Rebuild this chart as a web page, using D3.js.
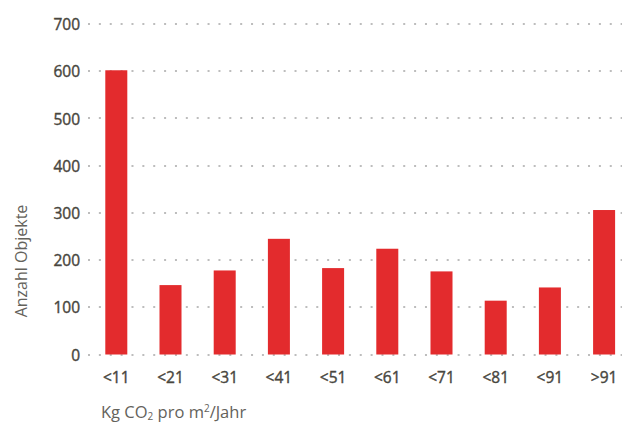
<!DOCTYPE html>
<html>
<head>
<meta charset="utf-8">
<script src="https://cdn.jsdelivr.net/npm/d3@7"></script>
<style>
  html, body { margin: 0; padding: 0; background: #ffffff; }
  svg { display: block; }
</style>
</head>
<body>
<div id="chart"></div>
<script>
const categories = ["<11", "<21", "<31", "<41", "<51", "<61", "<71", "<81", "<91", ">91"];
const values = [602, 147, 178, 245, 183, 224, 176, 114, 142, 306];
const yTicks = [0, 100, 200, 300, 400, 500, 600, 700];
const yTitle = "Anzahl Objekte";

const W = 627, H = 423;
const svg = d3.select("#chart").append("svg").attr("width", W).attr("height", H);

const x = d3.scaleBand().domain(categories).range([89.2, 631.2]).paddingInner(0.594).paddingOuter(0.297);
const y = d3.scaleLinear().domain([0, 700]).range([354.5, 24]);

const textColor = "#48463e";
const titleColor = "#64625b";
const font = "'Open Sans', sans-serif";

// gridlines
svg.append("g").selectAll("line").data(yTicks).join("line")
  .attr("x1", 88).attr("x2", 622)
  .attr("y1", d => Math.round(y(d))).attr("y2", d => Math.round(y(d)))
  .attr("stroke", "#bdbdbd").attr("stroke-width", 2)
  .attr("stroke-dasharray", "2 8.87");

// y axis labels
const yAxis = d3.axisLeft(y).tickValues(yTicks).tickSize(0).tickPadding(0);
const gy = svg.append("g").attr("transform", "translate(80,0)").call(yAxis);
gy.select(".domain").remove();
gy.selectAll("text").attr("font-family", font).attr("font-size", 15.5).attr("font-weight", 400)
  .attr("fill", textColor).attr("stroke", textColor).attr("stroke-width", 0.4)
  .attr("dy", "0.36em");

// bars
svg.append("g").selectAll("rect").data(values).join("rect")
  .attr("x", (d, i) => x(categories[i]))
  .attr("width", x.bandwidth())
  .attr("y", d => y(d))
  .attr("height", d => y(0) - y(d))
  .attr("fill", "#e32b2d");

// x axis labels
const xAxis = d3.axisBottom(x).tickSize(0).tickPadding(0);
const gx = svg.append("g").attr("transform", "translate(0,372)").call(xAxis);
gx.select(".domain").remove();
gx.selectAll("text").attr("font-family", font).attr("font-size", 15.5).attr("font-weight", 400)
  .attr("fill", textColor).attr("stroke", textColor).attr("stroke-width", 0.4)
  .attr("dy", "0.71em");

// y title
svg.append("text")
  .attr("transform", "translate(27,261) rotate(-90)")
  .attr("text-anchor", "middle")
  .attr("font-family", font).attr("font-size", 16).attr("font-weight", 400)
  .attr("fill", titleColor)
  .text(yTitle);

// x title
const xt = svg.append("text")
  .attr("x", 101).attr("y", 418)
  .attr("font-family", font).attr("font-size", 16.5).attr("font-weight", 400)
  .attr("fill", titleColor);
xt.append("tspan").text("Kg CO");
xt.append("tspan").attr("font-size", 10).attr("dy", 2).text("2");
xt.append("tspan").attr("dy", -2).text(" pro m");
xt.append("tspan").attr("font-size", 10).attr("dy", -6).text("2");
xt.append("tspan").attr("dy", 6).text("/Jahr");
</script>
</body>
</html>
